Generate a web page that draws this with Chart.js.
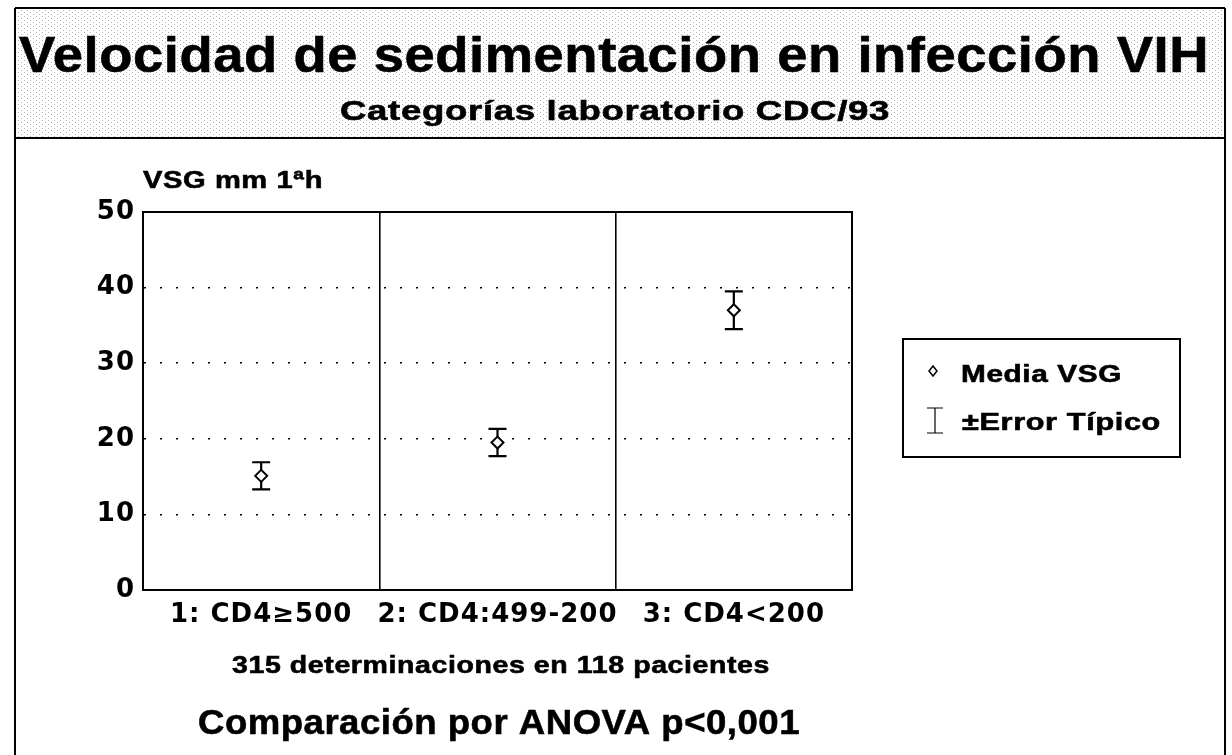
<!DOCTYPE html>
<html>
<head>
<meta charset="utf-8">
<script src="https://cdn.jsdelivr.net/npm/chart.js@4.4.1/dist/chart.umd.min.js"></script>
<style>
html, body { margin: 0; padding: 0; background: #fff; }
#wrap { position: relative; width: 1232px; height: 755px; }
</style>
</head>
<body>
<div id="wrap"><canvas id="c" width="1232" height="755"></canvas></div>
<script>
// datos
const categorias = ['1: CD4\u2265500', '2: CD4:499-200', '3: CD4<200'];
const mediaVSG = [15.1, 19.5, 37.0];
const errorTipico = [1.8, 1.8, 2.5];
const yTicks = [0, 10, 20, 30, 40, 50];

const titulo = 'Velocidad de sedimentación en infección VIH';
const subtitulo = 'Categorías laboratorio CDC/93';
const ejeY = 'VSG mm 1ªh';
const nota = '315 determinaciones en 118 pacientes';
const anova = 'Comparación por ANOVA p<0,001';
const leyenda = ['Media VSG', '\u00B1Error Típico'];

const FONT = '"Liberation Sans", Arial, sans-serif';
const FONT_TICKS = '"DejaVu Sans", Verdana, sans-serif';

// texto en negrita, estirado a lo ancho hasta w px (la letra original es ancha)
function txt(ctx, s, x, y, size, align, w) {
    ctx.save();
    ctx.font = 'bold ' + size + 'px ' + FONT;
    ctx.letterSpacing = '0.5px';
    const sx = w / ctx.measureText(s).width;
    ctx.translate(x, y);
    ctx.scale(sx, 1);
    ctx.textAlign = align;
    ctx.textBaseline = 'middle';
    ctx.fillStyle = '#000';
    ctx.strokeStyle = '#000';
    ctx.lineWidth = 0.6;
    ctx.fillText(s, 0, 0);
    ctx.strokeText(s, 0, 0);
    ctx.restore();
}

// trama de puntos de la cabecera
function trama(ctx) {
    const p = document.createElement('canvas');
    p.width = 6; p.height = 4;
    const pc = p.getContext('2d');
    pc.fillStyle = '#b4b4b4';
    pc.fillRect(0, 0, 1, 1);
    pc.fillRect(3, 2, 1, 1);
    return ctx.createPattern(p, 'repeat');
}

const decor = {
    id: 'decor',
    beforeDraw(chart) {
        const ctx = chart.ctx;
        ctx.save();
        ctx.fillStyle = '#fff';
        ctx.fillRect(0, 0, chart.width, chart.height);

        // cabecera
        ctx.fillStyle = trama(ctx);
        ctx.fillRect(15, 8, 1210, 130);
        ctx.strokeStyle = '#000';
        ctx.lineWidth = 2;
        ctx.beginPath();
        ctx.moveTo(15, 8); ctx.lineTo(1225, 8);
        ctx.moveTo(15, 138); ctx.lineTo(1225, 138);
        ctx.moveTo(15, 8); ctx.lineTo(15, 755);
        ctx.moveTo(1225, 8); ctx.lineTo(1225, 755);
        ctx.stroke();
        ctx.restore();

        txt(ctx, titulo, 614, 58, 50, 'center', 1190);
        txt(ctx, subtitulo, 615, 112, 28, 'center', 550);
        txt(ctx, ejeY, 143, 181, 24, 'left', 180);
        txt(ctx, nota, 501, 666, 24, 'center', 538);
        txt(ctx, anova, 499, 724, 35, 'center', 602);

        // leyenda
        ctx.save();
        ctx.strokeStyle = '#000';
        ctx.lineWidth = 2;
        ctx.strokeRect(903, 339, 277, 118);
        ctx.lineWidth = 1.5;
        ctx.beginPath();
        ctx.moveTo(933, 366); ctx.lineTo(937, 371); ctx.lineTo(933, 376); ctx.lineTo(929, 371);
        ctx.closePath();
        ctx.stroke();
        ctx.lineWidth = 1.2;
        ctx.beginPath();
        ctx.moveTo(935, 408); ctx.lineTo(935, 433);
        ctx.moveTo(927, 408); ctx.lineTo(943, 408);
        ctx.moveTo(927, 433); ctx.lineTo(943, 433);
        ctx.stroke();
        ctx.restore();
        txt(ctx, leyenda[0], 961, 375, 24, 'left', 161);
        txt(ctx, leyenda[1], 962, 423, 24, 'left', 199);

        ctx.letterSpacing = '1px';
    },
    beforeDatasetsDraw(chart) {
        const ctx = chart.ctx;
        const xs = chart.scales.x, ys = chart.scales.y;
        ctx.save();
        ctx.strokeStyle = '#000';
        ctx.lineWidth = 2.2;
        mediaVSG.forEach((m, i) => {
            const x = xs.getPixelForValue(i);
            const y1 = ys.getPixelForValue(m + errorTipico[i]);
            const y2 = ys.getPixelForValue(m - errorTipico[i]);
            ctx.beginPath();
            ctx.moveTo(x, y1); ctx.lineTo(x, y2);
            ctx.moveTo(x - 9, y1); ctx.lineTo(x + 9, y1);
            ctx.moveTo(x - 9, y2); ctx.lineTo(x + 9, y2);
            ctx.stroke();
        });
        ctx.restore();
    },
    afterDraw(chart) {
        const ctx = chart.ctx;
        const a = chart.chartArea;
        ctx.save();
        ctx.letterSpacing = '0px';
        ctx.strokeStyle = '#000';
        ctx.lineWidth = 2;
        ctx.strokeRect(a.left, a.top, a.right - a.left, a.bottom - a.top);
        ctx.restore();
    }
};

new Chart(document.getElementById('c'), {
    type: 'line',
    data: {
        labels: categorias,
        datasets: [{
            label: leyenda[0],
            data: mediaVSG,
            showLine: false,
            pointStyle: 'rectRot',
            pointRadius: 6,
            pointHoverRadius: 6,
            borderColor: '#000',
            backgroundColor: '#fff',
            pointBorderWidth: 2
        }]
    },
    options: {
        responsive: false,
        animation: false,
        events: [],
        layout: { padding: { left: 0, top: 212, right: 380, bottom: 125 } },
        plugins: { legend: { display: false }, tooltip: { enabled: false } },
        scales: {
            x: {
                type: 'category',
                offset: true,
                grid: { offset: true, color: '#000', lineWidth: 1.6, drawTicks: false },
                border: { display: true, color: '#000', width: 2 },
                ticks: { color: '#000', padding: 10, font: { family: FONT_TICKS, size: 26, weight: 'bold' } },
                afterFit: s => { s.height = 40; }
            },
            y: {
                min: 0,
                max: 50,
                afterBuildTicks: s => { s.ticks = yTicks.map(v => ({ value: v })); },
                grid: {
                    color: c => (c.tick && (c.tick.value === 0 || c.tick.value === 50)) ? 'rgba(0,0,0,0)' : '#000',
                    lineWidth: 1.6,
                    drawTicks: false
                },
                border: { display: true, color: '#000', width: 2, dash: [2, 14] },
                ticks: { color: '#000', padding: 8, font: { family: FONT_TICKS, size: 26, weight: 'bold' } },
                afterFit: s => { s.width = 143; }
            }
        }
    },
    plugins: [decor]
});
</script>
</body>
</html>
